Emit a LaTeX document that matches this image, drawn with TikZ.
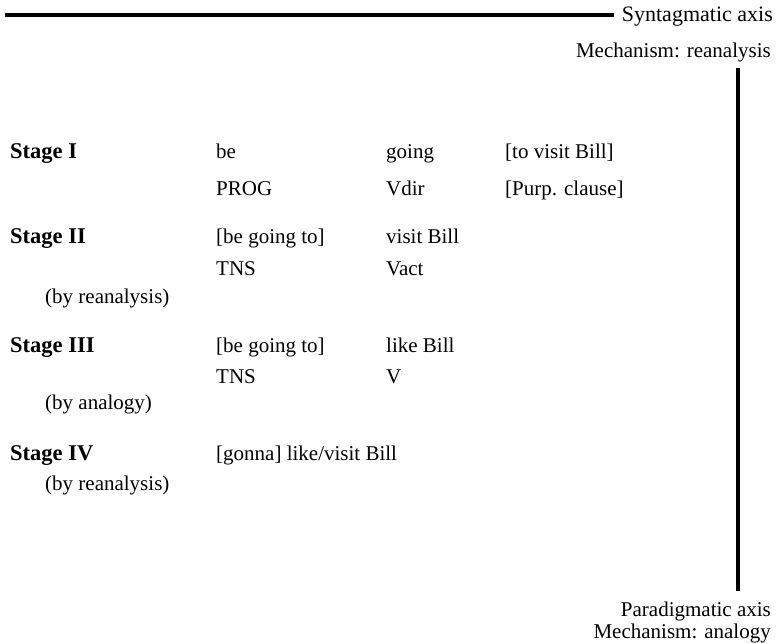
\documentclass[tikz,border=0pt]{standalone}
\usepackage{fontspec}
\setmainfont{Liberation Serif}
\begin{document}
\begin{tikzpicture}[x=1pt,y=-1pt,
  txt/.style={anchor=base west,inner sep=0pt,font=\fontsize{21}{24}\selectfont},
  rtxt/.style={anchor=base east,inner sep=0pt,font=\fontsize{21}{24}\selectfont},
  stg/.style={txt,font=\fontsize{22.5}{26}\selectfont\bfseries},
  axis/.style={line width=3.5pt}]
\useasboundingbox (0,0) rectangle (776,644);
% axes
\node[rtxt,font=\fontsize{22}{24}\selectfont] (syn) at (773,22) {Syntagmatic axis};
\coordinate (hl) at (5,15);
\draw[axis] (hl) -- ([xshift=-8pt]syn.west |- hl);
\node[rtxt] (mr) at (771,58) {Mechanism: reanalysis};
\coordinate (vt) at (738,68);
\coordinate (vb) at (738,591);
\draw[axis] (vt) -- (vb);
\node[rtxt] (par) at (771,616) {Paradigmatic axis};
\node[rtxt] (ma) at (771,638.5) {Mechanism: analogy};
% Stage I
\node[stg] (s1) at (10,159) {Stage I};
\node[txt] (s1a) at (216,159) {be};
\node[txt] (s1b) at (386,159) {going};
\node[txt] (s1c) at (505,159) {[to visit Bill]};
\node[txt] (s1d) at (216,196) {PROG};
\node[txt] (s1e) at (386,196) {Vdir};
\node[txt] (s1f) at (505,196) {[Purp. clause]};
% Stage II
\node[stg] (s2) at (10,244) {Stage II};
\node[txt] (s2a) at (216,244) {[be going to]};
\node[txt] (s2b) at (386,244) {visit Bill};
\node[txt] (s2d) at (216,276) {TNS};
\node[txt] (s2e) at (386,276) {Vact};
\node[txt] (s2m) at (45,303) {(by reanalysis)};
% Stage III
\node[stg] (s3) at (10,352) {Stage III};
\node[txt] (s3a) at (216,352) {[be going to]};
\node[txt] (s3b) at (386,352) {like Bill};
\node[txt] (s3d) at (216,383) {TNS};
\node[txt] (s3e) at (386,383) {V};
\node[txt] (s3m) at (45,409) {(by analogy)};
% Stage IV
\node[stg] (s4) at (10,460) {Stage IV};
\node[txt] (s4a) at (216,460) {[gonna] like/visit Bill};
\node[txt] (s4m) at (45,490) {(by reanalysis)};
\end{tikzpicture}
\end{document}
